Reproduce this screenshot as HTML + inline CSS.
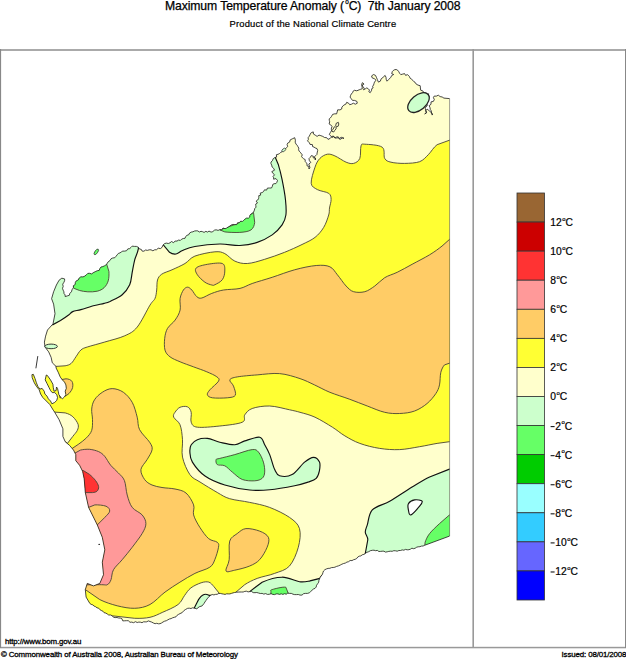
<!DOCTYPE html>
<html><head><meta charset="utf-8"><style>
html,body{margin:0;padding:0;background:#fff;}
svg{display:block;}
text{font-family:"Liberation Sans",sans-serif;fill:#000;}
</style></head><body>
<svg width="626" height="659" viewBox="0 0 626 659">
<defs><clipPath id="land"><path d="M449.5,98.6 L449.5,536.1 L424.6,545.3 L423.1,546.0 L421.4,546.1 L419.9,546.7 L418.2,546.8 L416.7,547.2 L415.2,548.2 L413.7,548.7 L411.9,548.2 L410.4,549.2 L408.9,549.7 L407.2,549.8 L405.5,549.4 L403.9,550.2 L402.2,549.9 L400.5,550.5 L398.9,550.5 L397.2,551.2 L395.5,550.8 L393.8,550.7 L392.2,551.3 L390.5,551.2 L388.8,551.4 L387.2,551.8 L385.5,552.1 L383.9,551.2 L382.2,551.2 L380.6,551.4 L378.9,551.5 L377.3,550.4 L375.6,550.7 L374.0,550.2 L372.3,550.3 L370.4,550.7 L368.7,551.7 L366.9,552.3 L365.3,553.5 L363.9,554.4 L362.2,554.8 L360.9,555.9 L359.2,556.2 L357.8,557.0 L356.7,558.5 L355.2,559.3 L353.6,559.7 L352.0,560.6 L350.1,560.5 L348.6,561.7 L346.9,562.1 L345.3,563.1 L343.6,563.5 L341.9,564.2 L340.2,565.1 L338.4,565.9 L336.6,566.4 L334.9,567.2 L333.2,567.5 L331.5,567.6 L329.9,568.3 L328.1,568.4 L326.5,568.9 L324.9,569.7 L323.5,571.0 L322.9,572.7 L322.4,574.5 L321.2,575.9 L320.2,577.3 L319.5,578.9 L318.9,580.5 L318.7,582.2 L317.7,583.7 L316.6,585.2 L316.2,587.0 L315.0,588.4 L313.3,589.1 L312.0,590.3 L310.6,591.6 L309.3,592.8 L307.5,593.4 L305.5,593.4 L303.6,593.7 L302.0,595.1 L300.0,595.1 L298.3,594.5 L296.5,594.6 L294.7,594.6 L293.0,594.2 L291.3,593.4 L289.5,593.4 L287.8,593.1 L286.2,594.2 L284.5,593.7 L282.9,594.4 L281.2,593.8 L279.6,594.4 L277.9,593.9 L276.2,593.9 L274.6,594.6 L272.8,594.4 L271.1,593.7 L269.2,594.3 L267.4,594.4 L265.7,593.6 L263.8,594.1 L262.1,593.4 L260.3,593.5 L258.5,593.0 L256.8,592.5 L255.0,592.7 L253.2,592.6 L251.5,591.5 L249.7,591.6 L248.1,591.9 L246.4,591.2 L244.8,591.4 L243.2,592.0 L241.6,592.0 L240.0,592.0 L238.2,592.1 L236.4,592.2 L234.6,592.5 L233.0,592.9 L231.4,593.4 L229.9,593.9 L228.3,593.9 L226.6,593.8 L225.1,594.4 L223.5,594.1 L221.9,593.8 L220.3,593.4 L218.7,593.5 L217.2,594.3 L215.5,594.4 L213.9,594.9 L212.2,594.5 L210.7,595.3 L208.3,597.3 L207.1,598.9 L205.9,600.6 L204.9,602.0 L204.0,603.5 L202.1,605.9 L199.2,606.8 L196.8,608.8 L194.9,608.3 L192.5,607.8 L191.0,608.5 L189.3,608.2 L187.7,608.3 L185.7,609.4 L183.8,610.7 L182.2,612.6 L180.0,613.6 L178.5,614.4 L177.1,615.3 L176.0,616.8 L174.3,617.3 L172.6,617.8 L171.1,618.6 L169.4,619.0 L167.9,619.8 L166.4,620.7 L164.6,621.2 L163.0,622.0 L161.5,623.0 L160.0,623.7 L158.4,623.8 L156.7,623.3 L155.1,623.7 L153.4,623.0 L151.7,622.1 L150.0,621.5 L148.3,620.9 L146.8,621.8 L145.2,621.9 L143.6,621.8 L142.0,622.7 L140.4,622.2 L138.8,622.1 L137.2,622.5 L135.5,621.7 L133.5,622.7 L131.8,622.1 L130.0,622.3 L128.3,620.7 L126.5,620.7 L124.7,620.8 L122.8,620.9 L121.9,618.7 L120.3,618.1 L118.6,618.0 L117.0,617.5 L115.1,617.6 L113.4,617.2 L112.2,615.8 L110.7,615.0 L108.7,615.0 L107.3,614.0 L105.8,613.1 L104.1,612.7 L102.9,611.2 L101.3,610.5 L99.8,609.6 L98.7,608.2 L97.0,607.8 L95.6,606.7 L94.1,606.1 L92.8,604.9 L91.2,604.4 L89.8,603.4 L86.1,597.1 L85.3,589.6 L87.3,583.4 L93.5,585.9 L99.8,583.4 L103.5,574.7 L102.3,562.2 L104.8,549.8 L102.3,537.3 L97.3,524.9 L88.6,507.4 L85.3,492.5 L84.2,478.9 L82.6,471.3 L79.6,465.3 L75.8,460.7 L75.8,454.6 L73.5,450.1 L69.7,445.5 L65.2,441.7 L62.9,436.4 L62.9,428.8 L59.1,419.7 L54.6,412.1 L53.3,410.2 L49.8,404.5 L46.3,401.0 L42.8,397.5 L40.6,394.0 L39.2,389.8 L36.4,386.3 L34.3,382.8 L32.2,377.8 L31.9,374.7 L33.3,374.3 L35.0,378.5 L36.4,382.8 L37.8,386.3 L39.9,389.1 L42.1,388.4 L44.2,391.2 L44.9,394.0 L47.0,396.1 L48.4,398.9 L50.5,401.0 L51.9,403.8 L54.7,402.4 L56.8,400.3 L57.5,397.5 L56.8,394.7 L54.7,392.6 L52.2,392.6 L50.5,390.5 L49.1,387.7 L47.0,383.5 L45.2,379.9 L46.3,375.0 L47.3,375.4 L50.5,379.9 L52.9,384.2 L53.3,387.7 L54.0,391.2 L56.1,390.5 L56.5,387.0 L57.5,388.4 L58.2,391.2 L58.9,394.7 L61.0,397.5 L62.4,398.9 L64.5,396.8 L65.9,394.7 L65.2,391.2 L66.3,388.4 L65.9,384.9 L64.5,382.1 L62.4,379.9 L60.3,377.1 L58.2,372.2 L56.1,368.0 L56.0,366.4 L52.3,362.8 L51.1,357.3 L48.7,351.9 L45.0,347.0 L44.4,342.1 L45.6,336.1 L47.5,330.0 L53.0,323.9 L55.0,313.7 L53.6,304.1 L51.6,298.7 L53.6,291.8 L56.4,285.0 L59.1,280.2 L61.8,278.2 L64.6,278.9 L64.6,280.7 L63.9,282.3 L62.7,284.2 L63.2,286.4 L62.5,288.3 L63.1,290.1 L63.9,291.8 L64.0,293.5 L65.1,294.9 L65.2,296.6 L67.3,295.9 L69.3,295.3 L69.9,293.3 L71.4,291.8 L72.1,289.6 L73.4,287.7 L73.4,285.7 L75.2,284.5 L75.3,282.5 L76.2,280.9 L78.2,280.0 L79.2,278.0 L80.9,276.8 L83.0,276.9 L84.8,276.1 L86.4,274.8 L87.8,273.4 L89.6,273.3 L91.7,273.9 L93.2,272.7 L95.2,271.7 L97.3,270.7 L99.2,270.4 L99.9,268.5 L101.0,267.0 L102.8,266.6 L104.3,265.9 L105.7,265.2 L106.8,263.9 L108.1,261.9 L110.0,260.5 L111.0,258.8 L112.7,258.0 L114.8,257.7 L116.0,256.3 L117.2,254.8 L118.4,253.4 L120.0,252.9 L121.4,251.9 L122.8,251.1 L124.7,251.1 L126.6,250.7 L127.8,248.9 L129.7,248.6 L131.0,247.4 L132.2,246.1 L134.3,246.4 L136.4,246.4 L138.4,247.3 L139.3,248.9 L141.3,249.4 L142.1,251.1 L143.9,251.2 L145.6,250.0 L147.4,250.4 L149.2,249.8 L151.0,249.8 L152.9,250.8 L154.6,249.8 L156.6,249.7 L158.2,248.2 L160.4,248.6 L162.1,247.3 L162.9,245.2 L164.6,243.6 L166.3,243.1 L168.3,243.5 L170.0,242.8 L171.5,241.5 L173.6,242.7 L175.1,241.0 L177.0,241.1 L178.5,240.1 L180.4,240.4 L181.7,239.1 L183.3,238.5 L185.0,238.3 L185.7,236.5 L187.0,235.3 L188.8,234.7 L189.6,233.0 L191.2,232.1 L192.9,231.8 L194.5,231.0 L196.2,230.8 L197.8,230.9 L199.3,232.0 L201.0,231.3 L202.6,231.7 L204.1,232.4 L205.9,231.3 L207.4,232.1 L209.0,231.1 L211.1,232.1 L212.8,231.6 L214.4,230.2 L216.1,229.8 L218.1,230.4 L219.8,229.6 L221.7,229.8 L223.0,228.0 L225.1,228.7 L226.7,228.0 L228.2,227.0 L229.8,226.1 L231.2,225.0 L232.9,224.4 L234.8,224.6 L236.7,224.6 L237.6,222.7 L239.4,222.7 L240.6,221.2 L242.5,221.4 L243.8,220.3 L245.1,219.0 L246.5,218.1 L248.4,218.2 L249.7,217.1 L249.9,215.3 L251.1,214.0 L252.5,212.9 L253.8,211.8 L254.4,210.1 L254.8,208.4 L256.0,207.2 L255.8,205.6 L255.7,204.1 L257.5,203.0 L256.1,201.1 L257.7,200.0 L258.5,198.8 L258.8,197.3 L258.8,195.6 L260.7,195.1 L260.2,193.1 L262.1,192.6 L263.5,191.6 L264.5,189.8 L266.6,190.1 L267.4,188.1 L269.4,188.0 L271.5,188.0 L272.4,186.2 L272.8,184.4 L274.1,183.7 L275.9,183.6 L276.8,182.4 L277.5,180.5 L276.0,178.6 L273.6,179.2 L273.7,177.8 L273.0,176.4 L274.6,174.8 L273.0,173.5 L271.8,171.6 L274.5,170.2 L273.6,168.3 L272.1,167.0 L271.7,165.1 L270.9,163.5 L271.0,162.0 L272.4,160.7 L273.2,158.7 L274.9,157.5 L276.6,157.1 L276.4,154.7 L278.1,154.3 L279.5,153.5 L280.7,152.4 L282.2,151.7 L283.0,150.0 L284.5,149.2 L286.2,148.0 L287.7,146.6 L287.1,144.6 L287.7,143.1 L289.6,142.1 L290.2,139.9 L292.2,138.9 L294.7,137.7 L295.4,140.2 L295.2,142.2 L296.0,144.1 L297.1,145.2 L297.9,146.6 L298.8,148.1 L298.6,149.8 L299.2,151.2 L300.4,152.3 L301.1,153.6 L302.3,154.6 L301.6,156.6 L302.5,157.8 L303.7,158.8 L305.2,159.6 L305.2,161.5 L306.2,162.6 L307.0,163.9 L307.0,165.8 L308.8,166.4 L309.0,169.0 L309.9,167.5 L309.4,165.8 L308.8,164.1 L310.8,162.4 L309.4,160.7 L309.0,158.6 L310.4,157.2 L311.3,155.6 L313.3,156.2 L313.2,157.8 L315.5,158.3 L315.2,160.0 L315.4,158.5 L314.2,156.9 L315.8,155.6 L316.9,154.5 L317.1,153.0 L317.7,150.4 L317.0,148.6 L315.2,147.9 L314.0,147.1 L312.6,146.6 L312.4,144.6 L310.0,144.4 L309.4,142.8 L307.5,140.9 L308.4,139.4 L308.1,137.7 L309.2,136.3 L310.0,134.8 L310.7,133.2 L311.9,132.4 L313.3,131.9 L313.4,134.0 L315.2,135.1 L317.1,136.4 L319.0,135.1 L320.9,135.7 L322.8,136.4 L324.6,137.5 L326.7,137.7 L328.0,139.4 L330.3,138.3 L331.4,137.1 L333.2,135.9 L334.8,138.0 L336.5,138.0 L338.3,137.7 L339.6,139.3 L341.0,139.0 L342.6,137.5 L344.0,138.3 L342.5,138.3 L341.3,137.1 L339.4,138.6 L338.3,136.9 L336.8,136.9 L335.2,137.7 L333.7,136.6 L332.1,137.4 L330.9,136.0 L329.3,134.5 L330.3,132.6 L331.4,130.9 L333.1,129.2 L334.3,126.9 L335.9,125.6 L336.0,123.5 L338.3,122.3 L338.8,124.0 L338.2,126.2 L336.0,126.9 L336.1,128.9 L334.8,130.3 L333.7,132.0 L332.0,131.4 L331.4,129.8 L331.4,128.0 L332.2,126.4 L330.9,125.2 L329.1,123.9 L329.7,121.8 L329.3,120.4 L329.2,118.9 L330.4,117.9 L331.4,116.6 L332.6,114.4 L334.8,113.8 L336.6,113.9 L337.1,112.1 L337.7,109.8 L340.0,109.9 L341.7,109.0 L341.9,107.1 L343.8,105.1 L345.8,104.2 L346.7,102.3 L348.6,103.2 L349.7,104.7 L351.5,104.2 L353.4,103.2 L355.3,104.2 L357.3,103.2 L356.8,101.3 L354.4,100.4 L352.5,100.4 L351.0,98.4 L350.1,97.1 L350.5,95.6 L351.3,94.0 L352.5,92.7 L353.1,91.2 L354.4,90.3 L356.8,90.8 L359.2,89.8 L360.6,89.3 L362.3,88.7 L362.1,86.9 L361.6,84.5 L362.5,82.6 L364.0,84.1 L362.2,85.0 L363.0,86.9 L364.3,88.2 L363.5,89.8 L365.4,88.8 L366.8,87.9 L368.3,88.8 L369.5,90.1 L368.8,91.7 L370.2,92.7 L371.6,90.3 L371.7,88.7 L373.1,87.9 L372.6,86.3 L373.6,85.0 L374.0,83.5 L374.5,82.1 L376.0,80.2 L374.5,78.8 L372.1,77.8 L371.6,75.9 L373.6,74.5 L375.5,75.4 L376.4,77.3 L377.4,79.7 L378.4,82.1 L380.3,81.2 L381.2,78.8 L383.1,77.3 L385.1,75.4 L386.0,77.3 L386.2,79.3 L387.0,81.2 L388.9,79.3 L390.8,77.3 L391.8,75.4 L393.7,74.5 L391.7,73.7 L392.3,71.6 L393.3,70.5 L394.7,69.7 L396.2,69.5 L397.5,70.1 L398.8,71.7 L399.6,73.3 L400.8,74.6 L402.7,74.1 L404.6,73.6 L405.6,75.4 L407.5,74.6 L409.4,76.5 L410.2,78.3 L411.8,79.4 L412.9,80.4 L413.8,81.6 L415.1,82.3 L416.2,84.1 L418.0,85.1 L420.2,85.7 L420.4,88.0 L420.7,90.2 L422.8,90.9 L423.8,92.6 L425.7,92.8 L426.8,94.4 L428.6,93.8 L427.9,95.3 L429.0,96.6 L428.3,98.2 L427.1,99.5 L427.2,101.5 L426.6,103.4 L427.3,105.6 L425.7,107.2 L425.3,108.7 L425.7,110.1 L426.5,112.3 L424.7,113.9 L426.6,112.9 L425.6,110.8 L427.1,109.1 L428.6,110.1 L430.5,112.0 L432.0,113.1 L431.9,114.9 L432.9,114.4 L431.2,113.1 L431.4,111.0 L430.3,109.5 L430.0,107.7 L429.2,105.6 L431.0,104.3 L431.0,101.9 L433.4,101.4 L434.3,99.5 L433.4,97.6 L434.3,96.0 L436.2,96.2 L438.3,95.2 L440.1,96.6 L442.2,97.0 L443.9,98.1 L449.5,98.6Z"/></clipPath></defs>
<rect x="0" y="0" width="626" height="659" fill="#fff"/>
<text x="165" y="10" font-size="12.2" xml:space="preserve" textLength="295.5" lengthAdjust="spacing" stroke="#000" stroke-width="0.25">Maximum Temperature Anomaly (<tspan font-size="6.4" dy="-6.2" dx="1.2">o</tspan><tspan dy="6.2">C)  7th January 2008</tspan></text>
<text x="229.6" y="26.9" font-size="9.4" textLength="166.5" lengthAdjust="spacing" stroke="#000" stroke-width="0.2">Product of the National Climate Centre</text>
<rect x="0" y="49" width="626" height="2" fill="#aaa"/>
<rect x="0" y="646.8" width="626" height="1.5" fill="#999"/>
<rect x="0" y="49" width="1.1" height="599" fill="#888"/>
<rect x="625" y="49" width="1" height="599" fill="#888"/>
<rect x="472.4" y="49" width="1.6" height="599" fill="#999"/>
<path d="M449.5,98.6 L449.5,536.1 L424.6,545.3 L423.1,546.0 L421.4,546.1 L419.9,546.7 L418.2,546.8 L416.7,547.2 L415.2,548.2 L413.7,548.7 L411.9,548.2 L410.4,549.2 L408.9,549.7 L407.2,549.8 L405.5,549.4 L403.9,550.2 L402.2,549.9 L400.5,550.5 L398.9,550.5 L397.2,551.2 L395.5,550.8 L393.8,550.7 L392.2,551.3 L390.5,551.2 L388.8,551.4 L387.2,551.8 L385.5,552.1 L383.9,551.2 L382.2,551.2 L380.6,551.4 L378.9,551.5 L377.3,550.4 L375.6,550.7 L374.0,550.2 L372.3,550.3 L370.4,550.7 L368.7,551.7 L366.9,552.3 L365.3,553.5 L363.9,554.4 L362.2,554.8 L360.9,555.9 L359.2,556.2 L357.8,557.0 L356.7,558.5 L355.2,559.3 L353.6,559.7 L352.0,560.6 L350.1,560.5 L348.6,561.7 L346.9,562.1 L345.3,563.1 L343.6,563.5 L341.9,564.2 L340.2,565.1 L338.4,565.9 L336.6,566.4 L334.9,567.2 L333.2,567.5 L331.5,567.6 L329.9,568.3 L328.1,568.4 L326.5,568.9 L324.9,569.7 L323.5,571.0 L322.9,572.7 L322.4,574.5 L321.2,575.9 L320.2,577.3 L319.5,578.9 L318.9,580.5 L318.7,582.2 L317.7,583.7 L316.6,585.2 L316.2,587.0 L315.0,588.4 L313.3,589.1 L312.0,590.3 L310.6,591.6 L309.3,592.8 L307.5,593.4 L305.5,593.4 L303.6,593.7 L302.0,595.1 L300.0,595.1 L298.3,594.5 L296.5,594.6 L294.7,594.6 L293.0,594.2 L291.3,593.4 L289.5,593.4 L287.8,593.1 L286.2,594.2 L284.5,593.7 L282.9,594.4 L281.2,593.8 L279.6,594.4 L277.9,593.9 L276.2,593.9 L274.6,594.6 L272.8,594.4 L271.1,593.7 L269.2,594.3 L267.4,594.4 L265.7,593.6 L263.8,594.1 L262.1,593.4 L260.3,593.5 L258.5,593.0 L256.8,592.5 L255.0,592.7 L253.2,592.6 L251.5,591.5 L249.7,591.6 L248.1,591.9 L246.4,591.2 L244.8,591.4 L243.2,592.0 L241.6,592.0 L240.0,592.0 L238.2,592.1 L236.4,592.2 L234.6,592.5 L233.0,592.9 L231.4,593.4 L229.9,593.9 L228.3,593.9 L226.6,593.8 L225.1,594.4 L223.5,594.1 L221.9,593.8 L220.3,593.4 L218.7,593.5 L217.2,594.3 L215.5,594.4 L213.9,594.9 L212.2,594.5 L210.7,595.3 L208.3,597.3 L207.1,598.9 L205.9,600.6 L204.9,602.0 L204.0,603.5 L202.1,605.9 L199.2,606.8 L196.8,608.8 L194.9,608.3 L192.5,607.8 L191.0,608.5 L189.3,608.2 L187.7,608.3 L185.7,609.4 L183.8,610.7 L182.2,612.6 L180.0,613.6 L178.5,614.4 L177.1,615.3 L176.0,616.8 L174.3,617.3 L172.6,617.8 L171.1,618.6 L169.4,619.0 L167.9,619.8 L166.4,620.7 L164.6,621.2 L163.0,622.0 L161.5,623.0 L160.0,623.7 L158.4,623.8 L156.7,623.3 L155.1,623.7 L153.4,623.0 L151.7,622.1 L150.0,621.5 L148.3,620.9 L146.8,621.8 L145.2,621.9 L143.6,621.8 L142.0,622.7 L140.4,622.2 L138.8,622.1 L137.2,622.5 L135.5,621.7 L133.5,622.7 L131.8,622.1 L130.0,622.3 L128.3,620.7 L126.5,620.7 L124.7,620.8 L122.8,620.9 L121.9,618.7 L120.3,618.1 L118.6,618.0 L117.0,617.5 L115.1,617.6 L113.4,617.2 L112.2,615.8 L110.7,615.0 L108.7,615.0 L107.3,614.0 L105.8,613.1 L104.1,612.7 L102.9,611.2 L101.3,610.5 L99.8,609.6 L98.7,608.2 L97.0,607.8 L95.6,606.7 L94.1,606.1 L92.8,604.9 L91.2,604.4 L89.8,603.4 L86.1,597.1 L85.3,589.6 L87.3,583.4 L93.5,585.9 L99.8,583.4 L103.5,574.7 L102.3,562.2 L104.8,549.8 L102.3,537.3 L97.3,524.9 L88.6,507.4 L85.3,492.5 L84.2,478.9 L82.6,471.3 L79.6,465.3 L75.8,460.7 L75.8,454.6 L73.5,450.1 L69.7,445.5 L65.2,441.7 L62.9,436.4 L62.9,428.8 L59.1,419.7 L54.6,412.1 L53.3,410.2 L49.8,404.5 L46.3,401.0 L42.8,397.5 L40.6,394.0 L39.2,389.8 L36.4,386.3 L34.3,382.8 L32.2,377.8 L31.9,374.7 L33.3,374.3 L35.0,378.5 L36.4,382.8 L37.8,386.3 L39.9,389.1 L42.1,388.4 L44.2,391.2 L44.9,394.0 L47.0,396.1 L48.4,398.9 L50.5,401.0 L51.9,403.8 L54.7,402.4 L56.8,400.3 L57.5,397.5 L56.8,394.7 L54.7,392.6 L52.2,392.6 L50.5,390.5 L49.1,387.7 L47.0,383.5 L45.2,379.9 L46.3,375.0 L47.3,375.4 L50.5,379.9 L52.9,384.2 L53.3,387.7 L54.0,391.2 L56.1,390.5 L56.5,387.0 L57.5,388.4 L58.2,391.2 L58.9,394.7 L61.0,397.5 L62.4,398.9 L64.5,396.8 L65.9,394.7 L65.2,391.2 L66.3,388.4 L65.9,384.9 L64.5,382.1 L62.4,379.9 L60.3,377.1 L58.2,372.2 L56.1,368.0 L56.0,366.4 L52.3,362.8 L51.1,357.3 L48.7,351.9 L45.0,347.0 L44.4,342.1 L45.6,336.1 L47.5,330.0 L53.0,323.9 L55.0,313.7 L53.6,304.1 L51.6,298.7 L53.6,291.8 L56.4,285.0 L59.1,280.2 L61.8,278.2 L64.6,278.9 L64.6,280.7 L63.9,282.3 L62.7,284.2 L63.2,286.4 L62.5,288.3 L63.1,290.1 L63.9,291.8 L64.0,293.5 L65.1,294.9 L65.2,296.6 L67.3,295.9 L69.3,295.3 L69.9,293.3 L71.4,291.8 L72.1,289.6 L73.4,287.7 L73.4,285.7 L75.2,284.5 L75.3,282.5 L76.2,280.9 L78.2,280.0 L79.2,278.0 L80.9,276.8 L83.0,276.9 L84.8,276.1 L86.4,274.8 L87.8,273.4 L89.6,273.3 L91.7,273.9 L93.2,272.7 L95.2,271.7 L97.3,270.7 L99.2,270.4 L99.9,268.5 L101.0,267.0 L102.8,266.6 L104.3,265.9 L105.7,265.2 L106.8,263.9 L108.1,261.9 L110.0,260.5 L111.0,258.8 L112.7,258.0 L114.8,257.7 L116.0,256.3 L117.2,254.8 L118.4,253.4 L120.0,252.9 L121.4,251.9 L122.8,251.1 L124.7,251.1 L126.6,250.7 L127.8,248.9 L129.7,248.6 L131.0,247.4 L132.2,246.1 L134.3,246.4 L136.4,246.4 L138.4,247.3 L139.3,248.9 L141.3,249.4 L142.1,251.1 L143.9,251.2 L145.6,250.0 L147.4,250.4 L149.2,249.8 L151.0,249.8 L152.9,250.8 L154.6,249.8 L156.6,249.7 L158.2,248.2 L160.4,248.6 L162.1,247.3 L162.9,245.2 L164.6,243.6 L166.3,243.1 L168.3,243.5 L170.0,242.8 L171.5,241.5 L173.6,242.7 L175.1,241.0 L177.0,241.1 L178.5,240.1 L180.4,240.4 L181.7,239.1 L183.3,238.5 L185.0,238.3 L185.7,236.5 L187.0,235.3 L188.8,234.7 L189.6,233.0 L191.2,232.1 L192.9,231.8 L194.5,231.0 L196.2,230.8 L197.8,230.9 L199.3,232.0 L201.0,231.3 L202.6,231.7 L204.1,232.4 L205.9,231.3 L207.4,232.1 L209.0,231.1 L211.1,232.1 L212.8,231.6 L214.4,230.2 L216.1,229.8 L218.1,230.4 L219.8,229.6 L221.7,229.8 L223.0,228.0 L225.1,228.7 L226.7,228.0 L228.2,227.0 L229.8,226.1 L231.2,225.0 L232.9,224.4 L234.8,224.6 L236.7,224.6 L237.6,222.7 L239.4,222.7 L240.6,221.2 L242.5,221.4 L243.8,220.3 L245.1,219.0 L246.5,218.1 L248.4,218.2 L249.7,217.1 L249.9,215.3 L251.1,214.0 L252.5,212.9 L253.8,211.8 L254.4,210.1 L254.8,208.4 L256.0,207.2 L255.8,205.6 L255.7,204.1 L257.5,203.0 L256.1,201.1 L257.7,200.0 L258.5,198.8 L258.8,197.3 L258.8,195.6 L260.7,195.1 L260.2,193.1 L262.1,192.6 L263.5,191.6 L264.5,189.8 L266.6,190.1 L267.4,188.1 L269.4,188.0 L271.5,188.0 L272.4,186.2 L272.8,184.4 L274.1,183.7 L275.9,183.6 L276.8,182.4 L277.5,180.5 L276.0,178.6 L273.6,179.2 L273.7,177.8 L273.0,176.4 L274.6,174.8 L273.0,173.5 L271.8,171.6 L274.5,170.2 L273.6,168.3 L272.1,167.0 L271.7,165.1 L270.9,163.5 L271.0,162.0 L272.4,160.7 L273.2,158.7 L274.9,157.5 L276.6,157.1 L276.4,154.7 L278.1,154.3 L279.5,153.5 L280.7,152.4 L282.2,151.7 L283.0,150.0 L284.5,149.2 L286.2,148.0 L287.7,146.6 L287.1,144.6 L287.7,143.1 L289.6,142.1 L290.2,139.9 L292.2,138.9 L294.7,137.7 L295.4,140.2 L295.2,142.2 L296.0,144.1 L297.1,145.2 L297.9,146.6 L298.8,148.1 L298.6,149.8 L299.2,151.2 L300.4,152.3 L301.1,153.6 L302.3,154.6 L301.6,156.6 L302.5,157.8 L303.7,158.8 L305.2,159.6 L305.2,161.5 L306.2,162.6 L307.0,163.9 L307.0,165.8 L308.8,166.4 L309.0,169.0 L309.9,167.5 L309.4,165.8 L308.8,164.1 L310.8,162.4 L309.4,160.7 L309.0,158.6 L310.4,157.2 L311.3,155.6 L313.3,156.2 L313.2,157.8 L315.5,158.3 L315.2,160.0 L315.4,158.5 L314.2,156.9 L315.8,155.6 L316.9,154.5 L317.1,153.0 L317.7,150.4 L317.0,148.6 L315.2,147.9 L314.0,147.1 L312.6,146.6 L312.4,144.6 L310.0,144.4 L309.4,142.8 L307.5,140.9 L308.4,139.4 L308.1,137.7 L309.2,136.3 L310.0,134.8 L310.7,133.2 L311.9,132.4 L313.3,131.9 L313.4,134.0 L315.2,135.1 L317.1,136.4 L319.0,135.1 L320.9,135.7 L322.8,136.4 L324.6,137.5 L326.7,137.7 L328.0,139.4 L330.3,138.3 L331.4,137.1 L333.2,135.9 L334.8,138.0 L336.5,138.0 L338.3,137.7 L339.6,139.3 L341.0,139.0 L342.6,137.5 L344.0,138.3 L342.5,138.3 L341.3,137.1 L339.4,138.6 L338.3,136.9 L336.8,136.9 L335.2,137.7 L333.7,136.6 L332.1,137.4 L330.9,136.0 L329.3,134.5 L330.3,132.6 L331.4,130.9 L333.1,129.2 L334.3,126.9 L335.9,125.6 L336.0,123.5 L338.3,122.3 L338.8,124.0 L338.2,126.2 L336.0,126.9 L336.1,128.9 L334.8,130.3 L333.7,132.0 L332.0,131.4 L331.4,129.8 L331.4,128.0 L332.2,126.4 L330.9,125.2 L329.1,123.9 L329.7,121.8 L329.3,120.4 L329.2,118.9 L330.4,117.9 L331.4,116.6 L332.6,114.4 L334.8,113.8 L336.6,113.9 L337.1,112.1 L337.7,109.8 L340.0,109.9 L341.7,109.0 L341.9,107.1 L343.8,105.1 L345.8,104.2 L346.7,102.3 L348.6,103.2 L349.7,104.7 L351.5,104.2 L353.4,103.2 L355.3,104.2 L357.3,103.2 L356.8,101.3 L354.4,100.4 L352.5,100.4 L351.0,98.4 L350.1,97.1 L350.5,95.6 L351.3,94.0 L352.5,92.7 L353.1,91.2 L354.4,90.3 L356.8,90.8 L359.2,89.8 L360.6,89.3 L362.3,88.7 L362.1,86.9 L361.6,84.5 L362.5,82.6 L364.0,84.1 L362.2,85.0 L363.0,86.9 L364.3,88.2 L363.5,89.8 L365.4,88.8 L366.8,87.9 L368.3,88.8 L369.5,90.1 L368.8,91.7 L370.2,92.7 L371.6,90.3 L371.7,88.7 L373.1,87.9 L372.6,86.3 L373.6,85.0 L374.0,83.5 L374.5,82.1 L376.0,80.2 L374.5,78.8 L372.1,77.8 L371.6,75.9 L373.6,74.5 L375.5,75.4 L376.4,77.3 L377.4,79.7 L378.4,82.1 L380.3,81.2 L381.2,78.8 L383.1,77.3 L385.1,75.4 L386.0,77.3 L386.2,79.3 L387.0,81.2 L388.9,79.3 L390.8,77.3 L391.8,75.4 L393.7,74.5 L391.7,73.7 L392.3,71.6 L393.3,70.5 L394.7,69.7 L396.2,69.5 L397.5,70.1 L398.8,71.7 L399.6,73.3 L400.8,74.6 L402.7,74.1 L404.6,73.6 L405.6,75.4 L407.5,74.6 L409.4,76.5 L410.2,78.3 L411.8,79.4 L412.9,80.4 L413.8,81.6 L415.1,82.3 L416.2,84.1 L418.0,85.1 L420.2,85.7 L420.4,88.0 L420.7,90.2 L422.8,90.9 L423.8,92.6 L425.7,92.8 L426.8,94.4 L428.6,93.8 L427.9,95.3 L429.0,96.6 L428.3,98.2 L427.1,99.5 L427.2,101.5 L426.6,103.4 L427.3,105.6 L425.7,107.2 L425.3,108.7 L425.7,110.1 L426.5,112.3 L424.7,113.9 L426.6,112.9 L425.6,110.8 L427.1,109.1 L428.6,110.1 L430.5,112.0 L432.0,113.1 L431.9,114.9 L432.9,114.4 L431.2,113.1 L431.4,111.0 L430.3,109.5 L430.0,107.7 L429.2,105.6 L431.0,104.3 L431.0,101.9 L433.4,101.4 L434.3,99.5 L433.4,97.6 L434.3,96.0 L436.2,96.2 L438.3,95.2 L440.1,96.6 L442.2,97.0 L443.9,98.1 L449.5,98.6Z" fill="#ffffcc"/>
<g clip-path="url(#land)">
<path d="M460.0,140.2 L449.5,140.2 L437.1,144.7 C433.6,147.1 431.2,151.9 428.3,154.7 C425.4,157.5 423.5,160.2 419.6,161.7 C415.7,163.1 409.5,163.3 404.7,163.4 C399.9,163.5 394.3,163.0 391.0,162.2 C387.7,161.4 386.2,160.9 384.7,158.4 C383.2,155.9 385.5,149.6 382.2,147.2 C378.9,144.8 368.3,144.4 364.8,144.2 C361.3,144.0 361.8,143.6 361.0,146.0 C360.2,148.4 361.0,155.5 359.8,158.4 C358.6,161.3 355.9,162.8 353.6,163.4 C351.3,164.0 349.2,163.4 346.1,162.2 C343.0,160.9 338.0,157.2 334.9,155.9 C331.8,154.6 329.9,153.8 327.4,154.2 C324.9,154.6 322.0,156.2 319.9,158.4 C317.8,160.6 316.4,163.0 315.0,167.2 C313.6,171.3 310.8,179.6 311.2,183.3 C311.6,187.0 314.5,187.9 317.4,189.6 C320.3,191.3 326.4,191.7 328.7,193.3 C331.0,195.0 331.0,197.1 331.1,199.5 C331.2,201.9 329.9,205.4 329.5,208.0 C329.1,210.6 329.7,211.8 328.7,215.0 C327.7,218.2 326.0,223.7 323.7,227.4 C321.4,231.1 318.6,234.6 315.0,237.4 C311.4,240.2 307.1,242.0 302.0,244.5 C296.9,247.0 290.8,249.8 284.6,252.3 C278.4,254.8 270.9,257.4 264.7,259.3 C258.5,261.2 252.3,263.2 247.3,263.5 C242.3,263.8 238.6,262.8 234.8,261.1 C231.1,259.5 228.1,255.2 224.8,253.6 C221.5,252.0 219.9,251.4 214.9,251.8 C209.9,252.2 199.9,254.2 194.9,256.1 C189.9,258.1 188.8,261.2 185.0,263.5 C181.2,265.8 175.9,268.0 172.0,269.8 C168.1,271.6 164.1,272.5 161.7,274.2 C159.3,275.9 158.3,277.4 157.5,280.0 C156.7,282.6 157.1,286.9 156.7,290.0 C156.3,293.1 156.1,295.9 155.0,298.4 C153.9,300.9 153.0,300.3 150.0,305.1 C147.0,309.9 141.4,322.0 137.2,327.1 C133.0,332.2 130.1,333.3 124.7,335.8 C119.3,338.3 111.0,340.1 104.8,342.0 C98.6,343.9 91.3,345.7 87.3,347.0 C83.3,348.3 82.8,348.4 80.9,350.0 C79.0,351.6 77.6,354.5 76.0,356.7 C74.4,358.9 73.0,361.9 71.2,363.4 C69.4,364.9 67.6,365.3 65.1,365.8 L56.0,366.4 L20.0,366.0 L20.0,412.0 L54.6,412.1 L65.2,412.9 C68.2,413.7 70.7,414.8 72.8,416.7 C74.9,418.6 77.3,422.0 78.1,424.3 C78.8,426.6 78.2,428.4 77.3,430.4 C76.4,432.4 74.4,434.2 72.8,436.4 L67.5,443.3 L65.2,441.7 L20.0,441.0 L20.0,640.0 L112.2,615.8 L134.7,618.3 C141.0,618.5 145.3,618.3 150.0,617.3 C154.7,616.3 158.1,614.3 162.8,612.2 C167.5,610.1 174.5,607.3 178.1,604.5 C181.7,601.7 182.4,598.4 184.5,595.6 C186.6,592.8 188.1,590.0 190.9,587.9 C193.7,585.8 198.1,583.8 201.1,582.8 C204.1,581.8 206.7,581.5 208.8,582.1 C210.9,582.7 212.2,584.8 213.9,586.6 L219.0,593.0 L219.0,640.0 L236.0,640.0 L236.0,592.1 L244.7,584.7 C248.2,582.4 252.2,580.3 257.2,578.4 C262.2,576.5 269.2,575.5 274.6,573.4 C280.0,571.3 285.6,570.4 289.5,566.0 C293.4,561.6 296.6,553.5 298.3,547.3 C300.0,541.1 301.0,533.6 299.5,528.6 C298.0,523.6 294.5,520.9 289.5,517.4 C284.5,513.9 276.2,509.9 269.6,507.4 C263.0,504.9 256.4,503.8 249.7,502.4 C243.0,500.9 235.1,500.3 229.7,498.7 C224.3,497.1 222.2,495.3 217.3,492.5 C212.4,489.7 204.6,485.0 200.0,482.0 C195.4,479.0 192.8,478.8 189.9,474.6 C187.0,470.5 183.7,462.9 182.5,457.1 C181.3,451.3 182.9,445.1 182.5,439.7 C182.1,434.3 181.5,428.4 180.0,424.7 C178.5,420.9 174.5,419.3 173.7,417.2 C172.9,415.1 173.9,413.9 175.0,412.3 C176.1,410.7 177.9,408.2 180.0,407.3 C182.1,406.4 185.5,406.0 187.4,406.8 C189.3,407.6 190.6,409.7 191.2,412.3 C191.8,414.9 190.2,419.7 191.2,422.2 C192.2,424.7 192.6,426.6 197.4,427.2 C202.2,427.8 212.3,426.8 219.8,426.0 C227.3,425.2 238.1,424.1 242.3,422.2 C246.5,420.3 243.2,417.1 244.8,414.8 C246.5,412.5 248.0,410.0 252.2,408.5 C256.3,407.0 263.5,405.8 269.7,406.0 C275.9,406.2 284.6,408.8 289.6,409.8 C294.7,410.9 295.8,411.1 300.0,412.3 C304.2,413.5 309.6,414.7 315.0,417.2 C320.4,419.7 327.4,424.1 332.4,427.2 C337.4,430.3 340.3,433.2 344.9,435.9 C349.5,438.6 354.0,441.3 359.8,443.4 C365.6,445.5 373.1,447.4 379.7,448.4 C386.3,449.4 393.0,449.9 399.7,449.6 C406.4,449.3 413.4,447.7 419.6,446.7 C425.8,445.7 432.1,444.2 437.1,443.4 L449.5,441.7 L460.0,441.7 L460.0,140.2Z" fill="#ffff33" stroke="#4a4436" stroke-width="0.9"/>
<path d="M187.6,287.2 C189.0,287.2 190.3,288.4 191.8,290.0 C193.3,291.6 195.1,295.4 196.8,296.7 C198.5,298.0 199.3,298.6 201.8,298.0 C204.3,297.4 208.2,294.7 211.8,293.4 C215.4,292.1 218.8,290.8 223.5,290.0 C228.2,289.2 235.2,289.5 240.0,288.4 C244.8,287.3 246.8,285.4 252.2,283.5 C257.6,281.6 265.1,279.6 272.2,277.3 C279.3,275.0 287.3,271.8 294.6,269.8 C301.9,267.8 310.3,266.0 316.2,265.5 C322.1,265.0 326.4,265.2 329.9,266.8 C333.4,268.4 334.7,271.6 337.4,274.8 C340.1,278.0 343.4,283.2 346.1,286.0 C348.8,288.8 350.5,290.8 353.6,291.7 C356.7,292.6 361.3,292.6 364.8,291.7 C368.3,290.8 371.5,288.3 374.8,286.0 C378.1,283.7 381.0,280.0 384.7,277.7 C388.4,275.4 392.6,274.5 397.2,272.3 C401.8,270.1 406.7,267.2 412.1,264.3 C417.5,261.4 424.6,257.8 429.6,254.8 C434.6,251.8 438.7,248.7 442.0,246.1 L449.5,239.4 L460.0,239.4 L460.0,363.2 L449.5,363.2 L444.5,364.9 C443.1,366.4 441.6,369.1 440.8,372.4 C440.0,375.7 440.3,381.4 439.5,384.9 C438.7,388.4 437.9,390.5 435.8,393.6 C433.7,396.7 430.6,400.6 427.1,403.5 C423.6,406.4 419.2,409.3 414.6,411.0 C410.0,412.7 404.7,413.3 399.7,413.5 C394.7,413.7 390.1,413.6 384.7,412.3 C379.3,411.1 373.1,408.2 367.3,406.0 C361.5,403.8 356.0,401.6 349.8,399.3 C343.6,397.0 335.8,394.7 329.9,392.3 C324.0,389.9 319.5,387.2 314.5,384.9 C309.5,382.6 305.8,380.5 300.0,378.6 C294.2,376.7 286.7,374.2 279.6,373.6 C272.5,373.0 264.2,374.3 257.2,374.9 C250.1,375.4 241.9,376.1 237.3,376.9 C232.7,377.7 230.4,378.4 229.8,379.9 C229.2,381.4 232.6,383.5 233.5,386.1 C234.4,388.7 236.3,393.4 235.3,395.3 C234.3,397.2 231.1,397.4 227.3,397.8 C223.5,398.2 215.7,398.3 212.4,397.8 C209.1,397.3 207.8,396.1 207.4,394.8 C207.0,393.5 208.0,392.1 209.9,389.8 C211.8,387.5 217.4,383.3 218.6,381.1 C219.8,378.9 218.8,378.4 216.8,376.8 C214.8,375.2 210.7,373.5 206.8,371.8 C202.9,370.1 197.9,368.5 193.4,366.8 C188.9,365.1 184.0,363.5 180.1,361.8 C176.2,360.1 172.5,358.8 170.0,356.8 C167.5,354.9 165.9,353.2 165.0,350.1 C164.1,347.0 164.3,342.0 164.7,338.4 C165.1,334.8 165.8,331.4 167.5,328.4 C169.2,325.3 173.0,323.2 175.1,320.1 C177.2,317.1 179.3,313.7 180.1,310.1 C180.9,306.5 179.5,301.8 180.1,298.4 C180.7,295.0 182.2,291.9 183.4,290.0 C184.7,288.1 186.2,287.2 187.6,287.2Z" fill="#ffcc66" stroke="#4a4436" stroke-width="0.9"/>
<path d="M196.2,268.0 C197.9,266.2 203.1,265.1 207.4,264.3 C211.8,263.6 219.4,262.4 222.3,263.5 C225.2,264.6 224.8,268.3 224.8,271.0 C224.8,273.7 224.0,277.4 222.3,279.7 C220.7,282.0 216.7,283.8 214.9,284.7 C213.2,285.6 213.5,285.4 211.8,285.0 C210.1,284.6 207.3,283.9 204.9,282.2 C202.5,280.5 198.9,277.2 197.4,274.8 C195.9,272.4 194.5,269.8 196.2,268.0Z" fill="#ffcc66" stroke="#4a4436" stroke-width="0.9"/>
<path d="M58.0,378.0 L62.0,379.5 L66.0,378.8 C67.2,378.8 68.5,379.1 69.5,379.5 C70.5,379.9 71.2,380.4 71.8,381.2 C72.3,381.9 72.7,382.9 72.8,384.0 C72.9,385.1 72.8,386.4 72.6,387.5 C72.3,388.6 71.9,389.5 71.3,390.5 C70.7,391.5 69.8,392.6 69.0,393.5 L66.3,395.6 L60.0,398.0 L58.0,378.0Z" fill="#ffcc66" stroke="#4a4436" stroke-width="0.9"/>
<path d="M60.0,452.0 L72.0,448.6 L78.8,444.0 C81.2,442.2 84.2,440.2 86.4,437.9 C88.6,435.6 90.7,433.4 91.7,430.4 C92.7,427.4 92.5,423.2 92.5,419.7 C92.5,416.1 91.4,412.4 91.7,409.1 C92.0,405.8 92.7,402.6 94.5,399.8 C96.3,397.0 99.3,394.2 102.3,392.3 C105.2,390.4 108.7,388.6 112.2,388.6 C115.7,388.6 120.1,390.0 123.4,392.3 C126.7,394.6 129.9,398.2 132.2,402.3 C134.5,406.4 136.0,412.6 137.2,417.2 C138.4,421.8 137.5,425.5 139.6,429.7 C141.7,433.9 147.5,438.9 149.6,442.2 C151.7,445.5 152.5,446.7 152.1,449.6 C151.7,452.5 149.0,456.3 147.1,459.6 C145.2,462.9 141.3,466.3 140.9,469.6 C140.5,472.9 142.8,476.9 144.6,479.5 C146.4,482.1 149.1,483.7 152.0,485.0 C154.9,486.3 158.2,486.8 162.0,487.5 C165.8,488.2 171.0,488.1 175.0,489.0 C179.0,489.9 182.9,490.4 186.0,493.0 C189.1,495.6 192.3,501.2 193.6,504.9 C194.9,508.5 192.6,511.2 193.6,514.9 C194.6,518.6 197.3,523.3 199.8,527.3 C202.3,531.2 205.7,536.1 208.6,538.6 C211.5,541.1 215.7,540.8 217.3,542.3 C219.0,543.8 218.9,544.4 218.5,547.3 C218.1,550.2 216.2,556.4 214.8,559.7 C213.4,563.0 213.1,564.9 209.8,567.2 C206.5,569.5 199.9,570.9 194.9,573.4 C189.9,575.9 184.9,579.1 179.9,582.2 C174.9,585.3 170.0,588.4 165.0,592.1 C160.0,595.8 155.1,601.8 150.0,604.5 C144.9,607.2 140.2,608.1 134.7,608.3 C129.2,608.5 123.0,607.2 117.2,605.8 C111.4,604.3 105.1,602.3 99.8,599.6 L85.3,589.6 L60.0,589.0 L60.0,452.0Z" fill="#ffcc66" stroke="#4a4436" stroke-width="0.9"/>
<path d="M229.7,541.1 C231.0,536.8 234.5,535.7 237.2,533.6 C239.9,531.5 242.2,529.0 245.9,528.6 C249.6,528.2 255.9,529.7 259.6,531.1 C263.4,532.5 267.1,534.6 268.4,537.3 C269.6,540.0 268.6,543.6 267.1,547.3 C265.6,551.0 262.5,556.6 259.6,559.7 C256.7,562.8 253.8,564.2 249.7,566.0 C245.5,567.8 238.6,569.4 234.7,570.2 C230.8,571.0 226.9,572.8 226.0,571.0 C225.1,569.2 228.6,564.7 229.2,559.7 C229.8,554.7 228.4,545.5 229.7,541.1Z" fill="#ffcc66" stroke="#4a4436" stroke-width="0.9"/>
<path d="M60.0,453.0 L75.0,453.1 L80.4,450.1 C82.8,449.5 86.5,449.1 89.5,449.3 C92.5,449.6 96.1,450.5 98.6,451.6 C101.1,452.8 102.6,453.9 104.6,456.2 C106.6,458.5 108.4,462.5 110.7,465.3 C113.0,468.1 116.0,470.4 118.3,472.9 C120.6,475.4 122.9,476.8 124.4,480.5 C125.9,484.2 125.9,490.5 127.2,495.0 C128.5,499.5 129.7,504.1 132.2,507.4 C134.7,510.7 139.8,512.2 142.1,514.9 C144.4,517.6 145.9,520.5 145.9,523.6 C145.9,526.7 144.4,529.7 142.1,533.6 C139.8,537.5 135.5,542.9 132.2,547.3 C128.9,551.6 125.3,556.0 122.2,559.7 C119.1,563.4 115.4,566.4 113.5,569.7 C111.6,573.0 112.0,577.2 111.0,579.7 C110.0,582.2 109.1,583.9 107.2,584.7 C105.3,585.5 107.7,584.7 99.8,584.7 L60.0,585.0 L60.0,453.0Z" fill="#ff9999" stroke="#4a4436" stroke-width="0.9"/>
<path d="M88.6,507.4 L94.8,504.9 C97.7,504.7 103.5,505.2 106.0,506.2 C108.5,507.2 109.9,509.2 109.7,511.1 C109.5,513.0 106.9,515.1 104.8,517.4 L97.3,524.9 L80.0,520.0 L88.6,507.4Z" fill="#ffcc66" stroke="#4a4436" stroke-width="0.9"/>
<path d="M70.0,470.0 L83.4,470.6 L89.5,474.4 C91.5,476.0 94.0,478.5 95.5,480.5 C97.0,482.5 98.3,484.7 98.6,486.5 C98.9,488.3 98.1,490.1 97.1,491.1 C96.1,492.1 94.4,492.4 92.5,492.6 L85.7,492.6 L70.0,493.0 L70.0,470.0Z" fill="#ff3333" stroke="#4a4436" stroke-width="0.9"/>
<path d="M140.0,230.0 L138.4,248.6 C137.5,253.6 135.7,255.9 134.7,259.8 C133.7,263.8 133.0,268.2 132.2,272.3 C131.4,276.4 131.4,281.0 129.7,284.7 C128.0,288.4 125.5,291.9 122.2,294.7 C118.9,297.5 113.0,299.9 110.0,301.4 C107.0,302.8 106.7,302.7 104.1,303.4 C101.5,304.1 98.5,304.5 94.6,305.5 C90.7,306.5 84.6,308.6 80.9,309.6 C77.2,310.6 74.8,310.7 72.7,311.6 C70.7,312.5 70.6,313.5 68.6,315.0 C66.6,316.5 63.1,318.9 60.5,320.5 L53.0,324.6 L30.0,325.0 L30.0,230.0 L140.0,230.0Z" fill="#ccffcc" stroke="#111" stroke-width="1.15"/>
<path d="M163.3,235.0 L163.3,244.9 L169.5,252.3 C171.6,253.8 173.8,254.3 176.0,254.0 C178.2,253.7 179.3,251.8 182.5,250.5 C185.7,249.2 188.7,247.6 194.9,246.5 C201.1,245.4 212.3,244.2 219.8,244.0 C227.3,243.8 233.6,245.8 239.8,245.5 C246.0,245.2 251.8,244.2 257.2,242.4 C262.6,240.6 268.0,237.8 272.2,234.9 C276.4,232.0 279.8,228.2 282.1,224.9 C284.4,221.6 285.3,219.2 285.9,215.0 C286.5,210.8 286.1,205.9 285.5,200.0 C284.9,194.1 283.3,185.6 282.1,179.7 C280.9,173.8 279.6,168.7 278.4,164.8 L274.7,156.1 L265.0,140.0 L160.0,200.0 L163.3,235.0Z" fill="#ccffcc" stroke="#111" stroke-width="1.15"/>
<path d="M191.2,444.7 C192.4,442.6 194.7,440.8 197.4,439.7 C200.1,438.6 203.7,438.0 207.4,438.4 C211.1,438.8 215.2,441.1 219.8,442.2 C224.4,443.2 230.6,444.9 234.8,444.7 C239.0,444.5 240.7,442.1 244.8,440.9 C249.0,439.6 256.4,436.6 259.7,437.2 C263.0,437.8 263.0,441.8 264.7,444.7 C266.4,447.6 268.0,450.5 269.7,454.6 C271.4,458.8 273.0,466.1 274.7,469.6 C276.4,473.1 276.7,475.0 279.6,475.8 C282.5,476.6 287.9,476.9 292.1,474.6 C296.3,472.3 301.0,465.0 304.6,462.1 C308.2,459.2 311.0,457.3 313.5,457.3 C316.0,457.3 318.5,459.9 319.5,462.1 C320.5,464.4 319.9,468.1 319.4,470.8 C318.8,473.5 318.0,476.4 316.2,478.3 C314.4,480.2 312.1,480.8 308.5,482.0 C304.9,483.2 301.1,484.5 294.6,485.8 C288.1,487.1 277.2,489.1 269.7,489.8 C262.2,490.5 257.2,490.8 249.7,490.0 C242.2,489.2 232.2,487.3 224.8,485.0 C217.4,482.7 210.4,479.8 205.0,476.0 C199.6,472.2 194.9,466.1 192.4,462.1 C189.9,458.1 190.1,455.0 189.9,452.1 C189.7,449.2 189.9,446.8 191.2,444.7Z" fill="#ccffcc" stroke="#111" stroke-width="1.15"/>
<path d="M449.5,469.1 L429.6,477.0 C423.4,480.0 418.8,483.0 412.1,487.0 C405.5,491.0 396.3,497.4 389.7,501.2 C383.1,505.0 376.0,505.9 372.3,509.9 C368.6,513.9 368.5,521.2 367.3,524.9 C366.1,528.6 365.2,529.8 365.3,532.3 C365.4,534.8 367.8,536.3 367.8,539.8 L365.3,553.5 L365.0,600.0 L460.0,600.0 L460.0,469.1 L449.5,469.1Z" fill="#ccffcc" stroke="#111" stroke-width="1.15"/>
<path d="M194.4,607.8 L196.8,603.0 C197.6,601.5 198.2,600.0 199.2,598.7 C200.1,597.4 201.4,596.0 202.5,595.3 C203.6,594.5 204.8,594.2 205.9,594.2 C207.0,594.2 208.0,595.1 208.8,595.3 L210.7,595.3 L215.0,620.0 L190.0,620.0 L194.4,607.8Z" fill="#ccffcc" stroke="#111" stroke-width="1.15"/>
<path d="M249.7,591.6 L262.1,582.2 C267.5,579.8 275.9,577.3 282.1,577.2 C288.3,577.1 294.9,581.1 299.5,581.7 C304.1,582.3 306.6,581.5 310.0,580.9 L319.9,578.4 L321.5,576.0 L330.0,610.0 L249.0,610.0 L249.7,591.6Z" fill="#ccffcc" stroke="#111" stroke-width="1.15"/>
<path d="M70.0,270.0 L73.4,287.7 L74.1,288.4 L79.6,290.5 C81.9,291.1 84.8,291.7 87.8,291.8 C90.8,291.9 94.6,291.9 97.3,291.2 C100.0,290.5 102.3,289.4 104.1,287.7 C105.9,286.0 107.4,283.6 108.2,280.9 C109.0,278.2 109.1,274.1 108.9,271.4 L106.8,264.6 L105.0,255.0 L70.0,270.0Z" fill="#66ff66" stroke="#4a4436" stroke-width="0.9"/>
<path d="M219.8,229.9 L237.3,223.7 L249.7,215.0 L253.5,212.5 L254.7,222.4 C254.3,225.3 253.5,228.2 251.0,229.9 C248.5,231.6 244.2,232.1 239.8,232.4 C235.4,232.7 228.1,232.3 224.8,231.9 L219.8,229.9Z" fill="#66ff66" stroke="#4a4436" stroke-width="0.9"/>
<path d="M216.1,459.6 C216.5,458.6 216.7,459.2 219.8,458.4 C222.9,457.6 229.4,456.1 234.8,454.6 C240.2,453.1 248.2,450.0 252.2,449.6 C256.1,449.2 256.6,450.0 258.5,452.1 C260.4,454.2 262.4,458.8 263.4,462.1 C264.4,465.4 264.9,469.4 264.7,472.1 C264.5,474.8 263.9,476.9 262.2,478.3 C260.5,479.8 258.0,480.6 254.7,480.8 C251.4,481.0 246.0,480.9 242.3,479.5 C238.6,478.1 235.2,474.4 232.3,472.1 C229.4,469.8 227.3,467.1 224.8,465.8 C222.3,464.6 218.8,465.6 217.3,464.6 C215.9,463.6 215.7,460.6 216.1,459.6Z" fill="#66ff66" stroke="#4a4436" stroke-width="0.9"/>
<path d="M449.5,514.9 L439.5,523.6 C436.2,526.7 432.0,530.5 429.6,533.6 C427.2,536.7 425.9,539.9 425.1,542.3 L424.6,548.0 L460.0,560.0 L460.0,514.9 L449.5,514.9Z" fill="#66ff66" stroke="#4a4436" stroke-width="0.9"/>
<path d="M270.9,592.1 C271.1,590.4 269.6,590.4 272.1,589.6 C274.6,588.8 283.1,586.6 285.8,587.2 L288.3,593.4 L288.0,600.0 L271.0,600.0 L270.9,592.1Z" fill="#66ff66" stroke="#4a4436" stroke-width="0.9"/>
<path d="M408.4,503.7 C409.4,502.0 412.3,500.3 414.6,499.9 C416.9,499.5 421.3,500.1 422.1,501.2 C422.9,502.2 421.5,503.9 419.6,506.2 C417.7,508.5 412.8,514.3 410.9,514.9 C409.0,515.5 408.8,511.8 408.4,509.9 C408.0,508.0 407.4,505.4 408.4,503.7Z" fill="#ffffff" stroke="#111" stroke-width="1.15"/>
</g>
<path d="M449.5,536.1 L424.6,545.3 L423.1,546.0 L421.4,546.1 L419.9,546.7 L418.2,546.8 L416.7,547.2 L415.2,548.2 L413.7,548.7 L411.9,548.2 L410.4,549.2 L408.9,549.7 L407.2,549.8 L405.5,549.4 L403.9,550.2 L402.2,549.9 L400.5,550.5 L398.9,550.5 L397.2,551.2 L395.5,550.8 L393.8,550.7 L392.2,551.3 L390.5,551.2 L388.8,551.4 L387.2,551.8 L385.5,552.1 L383.9,551.2 L382.2,551.2 L380.6,551.4 L378.9,551.5 L377.3,550.4 L375.6,550.7 L374.0,550.2 L372.3,550.3 L370.4,550.7 L368.7,551.7 L366.9,552.3 L365.3,553.5 L363.9,554.4 L362.2,554.8 L360.9,555.9 L359.2,556.2 L357.8,557.0 L356.7,558.5 L355.2,559.3 L353.6,559.7 L352.0,560.6 L350.1,560.5 L348.6,561.7 L346.9,562.1 L345.3,563.1 L343.6,563.5 L341.9,564.2 L340.2,565.1 L338.4,565.9 L336.6,566.4 L334.9,567.2 L333.2,567.5 L331.5,567.6 L329.9,568.3 L328.1,568.4 L326.5,568.9 L324.9,569.7 L323.5,571.0 L322.9,572.7 L322.4,574.5 L321.2,575.9 L320.2,577.3 L319.5,578.9 L318.9,580.5 L318.7,582.2 L317.7,583.7 L316.6,585.2 L316.2,587.0 L315.0,588.4 L313.3,589.1 L312.0,590.3 L310.6,591.6 L309.3,592.8 L307.5,593.4 L305.5,593.4 L303.6,593.7 L302.0,595.1 L300.0,595.1 L298.3,594.5 L296.5,594.6 L294.7,594.6 L293.0,594.2 L291.3,593.4 L289.5,593.4 L287.8,593.1 L286.2,594.2 L284.5,593.7 L282.9,594.4 L281.2,593.8 L279.6,594.4 L277.9,593.9 L276.2,593.9 L274.6,594.6 L272.8,594.4 L271.1,593.7 L269.2,594.3 L267.4,594.4 L265.7,593.6 L263.8,594.1 L262.1,593.4 L260.3,593.5 L258.5,593.0 L256.8,592.5 L255.0,592.7 L253.2,592.6 L251.5,591.5 L249.7,591.6 L248.1,591.9 L246.4,591.2 L244.8,591.4 L243.2,592.0 L241.6,592.0 L240.0,592.0 L238.2,592.1 L236.4,592.2 L234.6,592.5 L233.0,592.9 L231.4,593.4 L229.9,593.9 L228.3,593.9 L226.6,593.8 L225.1,594.4 L223.5,594.1 L221.9,593.8 L220.3,593.4 L218.7,593.5 L217.2,594.3 L215.5,594.4 L213.9,594.9 L212.2,594.5 L210.7,595.3 L208.3,597.3 L207.1,598.9 L205.9,600.6 L204.9,602.0 L204.0,603.5 L202.1,605.9 L199.2,606.8 L196.8,608.8 L194.9,608.3 L192.5,607.8 L191.0,608.5 L189.3,608.2 L187.7,608.3 L185.7,609.4 L183.8,610.7 L182.2,612.6 L180.0,613.6 L178.5,614.4 L177.1,615.3 L176.0,616.8 L174.3,617.3 L172.6,617.8 L171.1,618.6 L169.4,619.0 L167.9,619.8 L166.4,620.7 L164.6,621.2 L163.0,622.0 L161.5,623.0 L160.0,623.7 L158.4,623.8 L156.7,623.3 L155.1,623.7 L153.4,623.0 L151.7,622.1 L150.0,621.5 L148.3,620.9 L146.8,621.8 L145.2,621.9 L143.6,621.8 L142.0,622.7 L140.4,622.2 L138.8,622.1 L137.2,622.5 L135.5,621.7 L133.5,622.7 L131.8,622.1 L130.0,622.3 L128.3,620.7 L126.5,620.7 L124.7,620.8 L122.8,620.9 L121.9,618.7 L120.3,618.1 L118.6,618.0 L117.0,617.5 L115.1,617.6 L113.4,617.2 L112.2,615.8 L110.7,615.0 L108.7,615.0 L107.3,614.0 L105.8,613.1 L104.1,612.7 L102.9,611.2 L101.3,610.5 L99.8,609.6 L98.7,608.2 L97.0,607.8 L95.6,606.7 L94.1,606.1 L92.8,604.9 L91.2,604.4 L89.8,603.4 L86.1,597.1 L85.3,589.6 L87.3,583.4 L93.5,585.9 L99.8,583.4 L103.5,574.7 L102.3,562.2 L104.8,549.8 L102.3,537.3 L97.3,524.9 L88.6,507.4 L85.3,492.5 L84.2,478.9 L82.6,471.3 L79.6,465.3 L75.8,460.7 L75.8,454.6 L73.5,450.1 L69.7,445.5 L65.2,441.7 L62.9,436.4 L62.9,428.8 L59.1,419.7 L54.6,412.1 L53.3,410.2 L49.8,404.5 L46.3,401.0 L42.8,397.5 L40.6,394.0 L39.2,389.8 L36.4,386.3 L34.3,382.8 L32.2,377.8 L31.9,374.7 L33.3,374.3 L35.0,378.5 L36.4,382.8 L37.8,386.3 L39.9,389.1 L42.1,388.4 L44.2,391.2 L44.9,394.0 L47.0,396.1 L48.4,398.9 L50.5,401.0 L51.9,403.8 L54.7,402.4 L56.8,400.3 L57.5,397.5 L56.8,394.7 L54.7,392.6 L52.2,392.6 L50.5,390.5 L49.1,387.7 L47.0,383.5 L45.2,379.9 L46.3,375.0 L47.3,375.4 L50.5,379.9 L52.9,384.2 L53.3,387.7 L54.0,391.2 L56.1,390.5 L56.5,387.0 L57.5,388.4 L58.2,391.2 L58.9,394.7 L61.0,397.5 L62.4,398.9 L64.5,396.8 L65.9,394.7 L65.2,391.2 L66.3,388.4 L65.9,384.9 L64.5,382.1 L62.4,379.9 L60.3,377.1 L58.2,372.2 L56.1,368.0 L56.0,366.4 L52.3,362.8 L51.1,357.3 L48.7,351.9 L45.0,347.0 L44.4,342.1 L45.6,336.1 L47.5,330.0 L53.0,323.9 L55.0,313.7 L53.6,304.1 L51.6,298.7 L53.6,291.8 L56.4,285.0 L59.1,280.2 L61.8,278.2 L64.6,278.9 L64.6,280.7 L63.9,282.3 L62.7,284.2 L63.2,286.4 L62.5,288.3 L63.1,290.1 L63.9,291.8 L64.0,293.5 L65.1,294.9 L65.2,296.6 L67.3,295.9 L69.3,295.3 L69.9,293.3 L71.4,291.8 L72.1,289.6 L73.4,287.7 L73.4,285.7 L75.2,284.5 L75.3,282.5 L76.2,280.9 L78.2,280.0 L79.2,278.0 L80.9,276.8 L83.0,276.9 L84.8,276.1 L86.4,274.8 L87.8,273.4 L89.6,273.3 L91.7,273.9 L93.2,272.7 L95.2,271.7 L97.3,270.7 L99.2,270.4 L99.9,268.5 L101.0,267.0 L102.8,266.6 L104.3,265.9 L105.7,265.2 L106.8,263.9 L108.1,261.9 L110.0,260.5 L111.0,258.8 L112.7,258.0 L114.8,257.7 L116.0,256.3 L117.2,254.8 L118.4,253.4 L120.0,252.9 L121.4,251.9 L122.8,251.1 L124.7,251.1 L126.6,250.7 L127.8,248.9 L129.7,248.6 L131.0,247.4 L132.2,246.1 L134.3,246.4 L136.4,246.4 L138.4,247.3 L139.3,248.9 L141.3,249.4 L142.1,251.1 L143.9,251.2 L145.6,250.0 L147.4,250.4 L149.2,249.8 L151.0,249.8 L152.9,250.8 L154.6,249.8 L156.6,249.7 L158.2,248.2 L160.4,248.6 L162.1,247.3 L162.9,245.2 L164.6,243.6 L166.3,243.1 L168.3,243.5 L170.0,242.8 L171.5,241.5 L173.6,242.7 L175.1,241.0 L177.0,241.1 L178.5,240.1 L180.4,240.4 L181.7,239.1 L183.3,238.5 L185.0,238.3 L185.7,236.5 L187.0,235.3 L188.8,234.7 L189.6,233.0 L191.2,232.1 L192.9,231.8 L194.5,231.0 L196.2,230.8 L197.8,230.9 L199.3,232.0 L201.0,231.3 L202.6,231.7 L204.1,232.4 L205.9,231.3 L207.4,232.1 L209.0,231.1 L211.1,232.1 L212.8,231.6 L214.4,230.2 L216.1,229.8 L218.1,230.4 L219.8,229.6 L221.7,229.8 L223.0,228.0 L225.1,228.7 L226.7,228.0 L228.2,227.0 L229.8,226.1 L231.2,225.0 L232.9,224.4 L234.8,224.6 L236.7,224.6 L237.6,222.7 L239.4,222.7 L240.6,221.2 L242.5,221.4 L243.8,220.3 L245.1,219.0 L246.5,218.1 L248.4,218.2 L249.7,217.1 L249.9,215.3 L251.1,214.0 L252.5,212.9 L253.8,211.8 L254.4,210.1 L254.8,208.4 L256.0,207.2 L255.8,205.6 L255.7,204.1 L257.5,203.0 L256.1,201.1 L257.7,200.0 L258.5,198.8 L258.8,197.3 L258.8,195.6 L260.7,195.1 L260.2,193.1 L262.1,192.6 L263.5,191.6 L264.5,189.8 L266.6,190.1 L267.4,188.1 L269.4,188.0 L271.5,188.0 L272.4,186.2 L272.8,184.4 L274.1,183.7 L275.9,183.6 L276.8,182.4 L277.5,180.5 L276.0,178.6 L273.6,179.2 L273.7,177.8 L273.0,176.4 L274.6,174.8 L273.0,173.5 L271.8,171.6 L274.5,170.2 L273.6,168.3 L272.1,167.0 L271.7,165.1 L270.9,163.5 L271.0,162.0 L272.4,160.7 L273.2,158.7 L274.9,157.5 L276.6,157.1 L276.4,154.7 L278.1,154.3 L279.5,153.5 L280.7,152.4 L282.2,151.7 L283.0,150.0 L284.5,149.2 L286.2,148.0 L287.7,146.6 L287.1,144.6 L287.7,143.1 L289.6,142.1 L290.2,139.9 L292.2,138.9 L294.7,137.7 L295.4,140.2 L295.2,142.2 L296.0,144.1 L297.1,145.2 L297.9,146.6 L298.8,148.1 L298.6,149.8 L299.2,151.2 L300.4,152.3 L301.1,153.6 L302.3,154.6 L301.6,156.6 L302.5,157.8 L303.7,158.8 L305.2,159.6 L305.2,161.5 L306.2,162.6 L307.0,163.9 L307.0,165.8 L308.8,166.4 L309.0,169.0 L309.9,167.5 L309.4,165.8 L308.8,164.1 L310.8,162.4 L309.4,160.7 L309.0,158.6 L310.4,157.2 L311.3,155.6 L313.3,156.2 L313.2,157.8 L315.5,158.3 L315.2,160.0 L315.4,158.5 L314.2,156.9 L315.8,155.6 L316.9,154.5 L317.1,153.0 L317.7,150.4 L317.0,148.6 L315.2,147.9 L314.0,147.1 L312.6,146.6 L312.4,144.6 L310.0,144.4 L309.4,142.8 L307.5,140.9 L308.4,139.4 L308.1,137.7 L309.2,136.3 L310.0,134.8 L310.7,133.2 L311.9,132.4 L313.3,131.9 L313.4,134.0 L315.2,135.1 L317.1,136.4 L319.0,135.1 L320.9,135.7 L322.8,136.4 L324.6,137.5 L326.7,137.7 L328.0,139.4 L330.3,138.3 L331.4,137.1 L333.2,135.9 L334.8,138.0 L336.5,138.0 L338.3,137.7 L339.6,139.3 L341.0,139.0 L342.6,137.5 L344.0,138.3 L342.5,138.3 L341.3,137.1 L339.4,138.6 L338.3,136.9 L336.8,136.9 L335.2,137.7 L333.7,136.6 L332.1,137.4 L330.9,136.0 L329.3,134.5 L330.3,132.6 L331.4,130.9 L333.1,129.2 L334.3,126.9 L335.9,125.6 L336.0,123.5 L338.3,122.3 L338.8,124.0 L338.2,126.2 L336.0,126.9 L336.1,128.9 L334.8,130.3 L333.7,132.0 L332.0,131.4 L331.4,129.8 L331.4,128.0 L332.2,126.4 L330.9,125.2 L329.1,123.9 L329.7,121.8 L329.3,120.4 L329.2,118.9 L330.4,117.9 L331.4,116.6 L332.6,114.4 L334.8,113.8 L336.6,113.9 L337.1,112.1 L337.7,109.8 L340.0,109.9 L341.7,109.0 L341.9,107.1 L343.8,105.1 L345.8,104.2 L346.7,102.3 L348.6,103.2 L349.7,104.7 L351.5,104.2 L353.4,103.2 L355.3,104.2 L357.3,103.2 L356.8,101.3 L354.4,100.4 L352.5,100.4 L351.0,98.4 L350.1,97.1 L350.5,95.6 L351.3,94.0 L352.5,92.7 L353.1,91.2 L354.4,90.3 L356.8,90.8 L359.2,89.8 L360.6,89.3 L362.3,88.7 L362.1,86.9 L361.6,84.5 L362.5,82.6 L364.0,84.1 L362.2,85.0 L363.0,86.9 L364.3,88.2 L363.5,89.8 L365.4,88.8 L366.8,87.9 L368.3,88.8 L369.5,90.1 L368.8,91.7 L370.2,92.7 L371.6,90.3 L371.7,88.7 L373.1,87.9 L372.6,86.3 L373.6,85.0 L374.0,83.5 L374.5,82.1 L376.0,80.2 L374.5,78.8 L372.1,77.8 L371.6,75.9 L373.6,74.5 L375.5,75.4 L376.4,77.3 L377.4,79.7 L378.4,82.1 L380.3,81.2 L381.2,78.8 L383.1,77.3 L385.1,75.4 L386.0,77.3 L386.2,79.3 L387.0,81.2 L388.9,79.3 L390.8,77.3 L391.8,75.4 L393.7,74.5 L391.7,73.7 L392.3,71.6 L393.3,70.5 L394.7,69.7 L396.2,69.5 L397.5,70.1 L398.8,71.7 L399.6,73.3 L400.8,74.6 L402.7,74.1 L404.6,73.6 L405.6,75.4 L407.5,74.6 L409.4,76.5 L410.2,78.3 L411.8,79.4 L412.9,80.4 L413.8,81.6 L415.1,82.3 L416.2,84.1 L418.0,85.1 L420.2,85.7 L420.4,88.0 L420.7,90.2 L422.8,90.9 L423.8,92.6 L425.7,92.8 L426.8,94.4 L428.6,93.8 L427.9,95.3 L429.0,96.6 L428.3,98.2 L427.1,99.5 L427.2,101.5 L426.6,103.4 L427.3,105.6 L425.7,107.2 L425.3,108.7 L425.7,110.1 L426.5,112.3 L424.7,113.9 L426.6,112.9 L425.6,110.8 L427.1,109.1 L428.6,110.1 L430.5,112.0 L432.0,113.1 L431.9,114.9 L432.9,114.4 L431.2,113.1 L431.4,111.0 L430.3,109.5 L430.0,107.7 L429.2,105.6 L431.0,104.3 L431.0,101.9 L433.4,101.4 L434.3,99.5 L433.4,97.6 L434.3,96.0 L436.2,96.2 L438.3,95.2 L440.1,96.6 L442.2,97.0 L443.9,98.1 L449.5,98.6 L449.5,98.6" fill="none" stroke="#1a1a1a" stroke-width="0.8"/>
<line x1="449.6" y1="98.6" x2="449.6" y2="536.1" stroke="#000" stroke-opacity="0.38" stroke-width="1"/>
<ellipse cx="418.5" cy="102.6" rx="12.6" ry="7.4" transform="rotate(-40 418.5 102.6)" fill="#ccffcc" stroke="#222" stroke-width="1.3"/>
<ellipse cx="51.1" cy="346.4" rx="6.3" ry="2.3" fill="#ccffcc" stroke="#222" stroke-width="0.9"/>
<ellipse cx="96.3" cy="251.9" rx="3.3" ry="1.4" transform="rotate(-55 96.3 251.9)" fill="#66ff66" stroke="#333" stroke-width="0.7"/>
<ellipse cx="283.8" cy="150" rx="2.3" ry="1.3" transform="rotate(-40 283.8 150)" fill="#ccffcc" stroke="#333" stroke-width="0.7"/>
<ellipse cx="99.2" cy="544.4" rx="0.9" ry="0.7" fill="#333"/>
<line x1="37.8" y1="356.1" x2="35.9" y2="368.3" stroke="#222" stroke-width="0.9"/>

<rect x="517" y="193.00" width="27.5" height="29.07" fill="#996633" stroke="#333" stroke-width="0.8"/>
<rect x="517" y="222.07" width="27.5" height="29.07" fill="#cc0000" stroke="#333" stroke-width="0.8"/>
<rect x="517" y="251.14" width="27.5" height="29.07" fill="#ff3333" stroke="#333" stroke-width="0.8"/>
<rect x="517" y="280.21" width="27.5" height="29.07" fill="#ff9999" stroke="#333" stroke-width="0.8"/>
<rect x="517" y="309.29" width="27.5" height="29.07" fill="#ffcc66" stroke="#333" stroke-width="0.8"/>
<rect x="517" y="338.36" width="27.5" height="29.07" fill="#ffff33" stroke="#333" stroke-width="0.8"/>
<rect x="517" y="367.43" width="27.5" height="29.07" fill="#ffffcc" stroke="#333" stroke-width="0.8"/>
<rect x="517" y="396.50" width="27.5" height="29.07" fill="#ccffcc" stroke="#333" stroke-width="0.8"/>
<rect x="517" y="425.57" width="27.5" height="29.07" fill="#66ff66" stroke="#333" stroke-width="0.8"/>
<rect x="517" y="454.64" width="27.5" height="29.07" fill="#00cc00" stroke="#333" stroke-width="0.8"/>
<rect x="517" y="483.71" width="27.5" height="29.07" fill="#99ffff" stroke="#333" stroke-width="0.8"/>
<rect x="517" y="512.79" width="27.5" height="29.07" fill="#33ccff" stroke="#333" stroke-width="0.8"/>
<rect x="517" y="541.86" width="27.5" height="29.07" fill="#6666ff" stroke="#333" stroke-width="0.8"/>
<rect x="517" y="570.93" width="27.5" height="29.07" fill="#0000ff" stroke="#333" stroke-width="0.8"/>
<text x="550.2" y="226.0" font-size="10.3" stroke="#000" stroke-width="0.2">12<tspan font-size="5.9" dy="-5.1" dx="0.6">o</tspan><tspan dy="5.1">C</tspan></text>
<text x="550.2" y="255.0" font-size="10.3" stroke="#000" stroke-width="0.2">10<tspan font-size="5.9" dy="-5.1" dx="0.6">o</tspan><tspan dy="5.1">C</tspan></text>
<text x="550.2" y="284.1" font-size="10.3" stroke="#000" stroke-width="0.2">8<tspan font-size="5.9" dy="-5.1" dx="0.6">o</tspan><tspan dy="5.1">C</tspan></text>
<text x="550.2" y="313.2" font-size="10.3" stroke="#000" stroke-width="0.2">6<tspan font-size="5.9" dy="-5.1" dx="0.6">o</tspan><tspan dy="5.1">C</tspan></text>
<text x="550.2" y="342.3" font-size="10.3" stroke="#000" stroke-width="0.2">4<tspan font-size="5.9" dy="-5.1" dx="0.6">o</tspan><tspan dy="5.1">C</tspan></text>
<text x="550.2" y="371.3" font-size="10.3" stroke="#000" stroke-width="0.2">2<tspan font-size="5.9" dy="-5.1" dx="0.6">o</tspan><tspan dy="5.1">C</tspan></text>
<text x="550.2" y="400.4" font-size="10.3" stroke="#000" stroke-width="0.2">0<tspan font-size="5.9" dy="-5.1" dx="0.6">o</tspan><tspan dy="5.1">C</tspan></text>
<rect x="550.6" y="426.12" width="4.0" height="1.0" fill="#000"/>
<text x="555.2" y="429.5" font-size="10.3" stroke="#000" stroke-width="0.2">2<tspan font-size="5.9" dy="-5.1" dx="0.6">o</tspan><tspan dy="5.1">C</tspan></text>
<rect x="550.6" y="455.19" width="4.0" height="1.0" fill="#000"/>
<text x="555.2" y="458.5" font-size="10.3" stroke="#000" stroke-width="0.2">4<tspan font-size="5.9" dy="-5.1" dx="0.6">o</tspan><tspan dy="5.1">C</tspan></text>
<rect x="550.6" y="484.26" width="4.0" height="1.0" fill="#000"/>
<text x="555.2" y="487.6" font-size="10.3" stroke="#000" stroke-width="0.2">6<tspan font-size="5.9" dy="-5.1" dx="0.6">o</tspan><tspan dy="5.1">C</tspan></text>
<rect x="550.6" y="513.34" width="4.0" height="1.0" fill="#000"/>
<text x="555.2" y="516.7" font-size="10.3" stroke="#000" stroke-width="0.2">8<tspan font-size="5.9" dy="-5.1" dx="0.6">o</tspan><tspan dy="5.1">C</tspan></text>
<rect x="550.6" y="542.41" width="4.0" height="1.0" fill="#000"/>
<text x="555.2" y="545.8" font-size="10.3" stroke="#000" stroke-width="0.2">10<tspan font-size="5.9" dy="-5.1" dx="0.6">o</tspan><tspan dy="5.1">C</tspan></text>
<rect x="550.6" y="571.48" width="4.0" height="1.0" fill="#000"/>
<text x="555.2" y="574.8" font-size="10.3" stroke="#000" stroke-width="0.2">12<tspan font-size="5.9" dy="-5.1" dx="0.6">o</tspan><tspan dy="5.1">C</tspan></text>
<text x="5" y="643.7" font-size="7.9" textLength="76.5" lengthAdjust="spacing" stroke="#000" stroke-width="0.3">http://www.bom.gov.au</text>
<text x="1" y="657.4" font-size="7.9" textLength="237" lengthAdjust="spacing" stroke="#000" stroke-width="0.3">&#169; Commonwealth of Australia 2008, Australian Bureau of Meteorology</text>
<text x="561.5" y="657.3" font-size="7.9" textLength="65" lengthAdjust="spacing" stroke="#000" stroke-width="0.3">Issued: 08/01/2008</text>
</svg>
</body></html>
